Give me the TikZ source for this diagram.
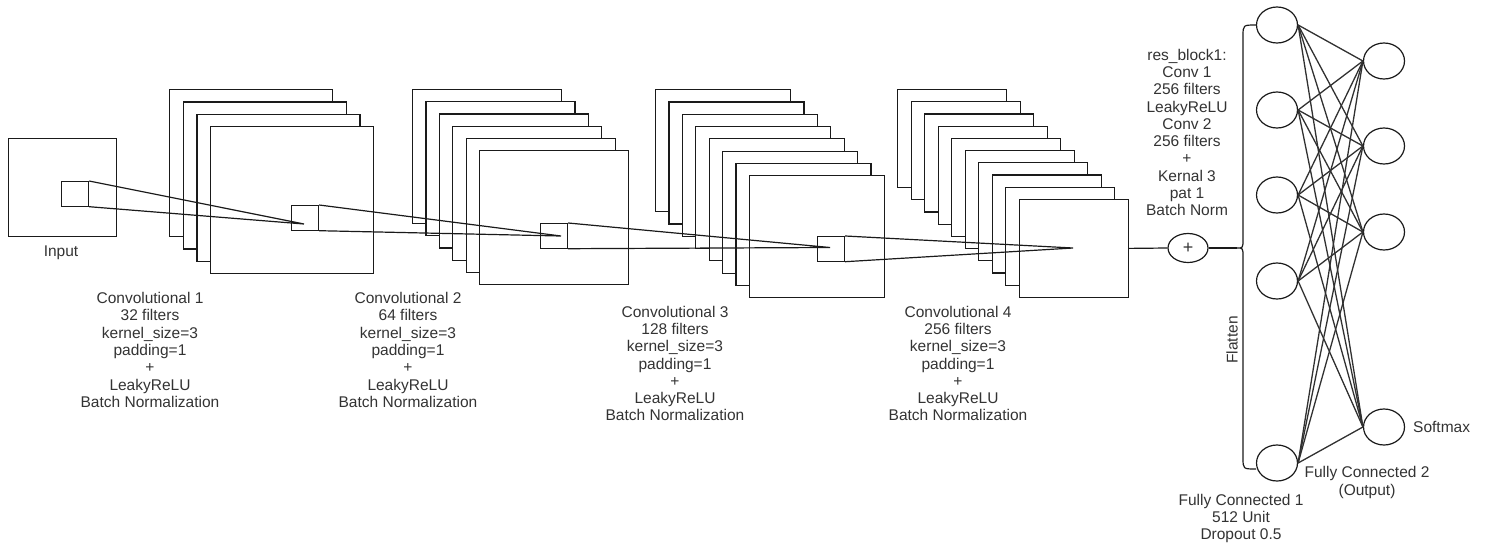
\documentclass[tikz,border=0pt]{standalone}
\usepackage{fontspec}
\setmainfont{Liberation Sans}
\usetikzlibrary{shapes.geometric}
\definecolor{txt}{HTML}{333333}
\definecolor{ln}{HTML}{1A1A1A}
\begin{document}
\begin{tikzpicture}[x=1pt,y=-1pt,
  sheet/.style={draw=ln, fill=white, line width=1.2pt, inner sep=0pt, anchor=north west},
  kern/.style={draw=ln, line width=1.2pt, inner sep=0pt, anchor=north west, minimum width=27pt, minimum height=24.5pt},
  lbl/.style={align=center, text=txt, font=\fontsize{15.5}{17.3}\selectfont, inner sep=0pt},
  neuron/.style={ellipse, draw=ln, line width=1.2pt, minimum width=41pt, minimum height=36pt, inner sep=0pt},
  wire/.style={draw=ln, line width=1.2pt},
  synapse/.style={draw=ln!90, line width=1.3pt}
]
\useasboundingbox (0,0) rectangle (1487,549);

% input
\node[sheet, minimum width=108pt, minimum height=98pt] (inp) at (8,138) {};
\node[lbl] (inplbl) at (61,253) {Input};

% stacks of feature maps
\foreach \i in {0,...,3}
  \node[sheet, minimum width=163pt, minimum height=147pt] (sa\i) at ({169+13.7*\i},{89+12.3*\i}) {};
\foreach \i in {0,...,5}
  \node[sheet, minimum width=149pt, minimum height=134pt] (sb\i) at ({412+13.4*\i},{89+12.2*\i}) {};
\foreach \i in {0,...,7}
  \node[sheet, minimum width=135pt, minimum height=122pt] (sc\i) at ({655+13.4*\i},{89+12.3*\i}) {};
\foreach \i in {0,...,9}
  \node[sheet, minimum width=109pt, minimum height=98pt] (sd\i) at ({897+13.5*\i},{89+12.2*\i}) {};

% kernels
\node[kern] (k0) at (61,181) {};
\node[kern] (k1) at (291,205) {};
\node[kern] (k2) at (540,223) {};
\node[kern] (k3) at (817,236) {};
\coordinate (p1) at (304,224);
\coordinate (p2) at (561,236);
\coordinate (p3) at (830,247.5);
\coordinate (p4) at (1073,248);
\draw[wire] (k0.north east) -- (p1) (k0.south east) -- (p1);
\draw[wire] (k1.north east) -- (p2) (k1.south east) -- (p2);
\draw[wire] (k2.north east) -- (p3) (k2.south east) -- (p3);
\draw[wire] (k3.north east) -- (p4) (k3.south east) -- (p4);

% labels of conv layers
\node[lbl] (l1) at (150,350) {Convolutional 1\\32 filters\\kernel\_size=3\\padding=1\\+\\LeakyReLU\\Batch Normalization};
\node[lbl] (l2) at (408,350) {Convolutional 2\\64 filters\\kernel\_size=3\\padding=1\\+\\LeakyReLU\\Batch Normalization};
\node[lbl] (l3) at (675,363.5) {Convolutional 3\\128 filters\\kernel\_size=3\\padding=1\\+\\LeakyReLU\\Batch Normalization};
\node[lbl] (l4) at (958,363.5) {Convolutional 4\\256 filters\\kernel\_size=3\\padding=1\\+\\LeakyReLU\\Batch Normalization};

% residual block
\node[lbl] (res) at (1187,132.5) {res\_block1:\\Conv 1\\256 filters\\LeakyReLU\\Conv 2\\256 filters\\+\\Kernal 3\\pat 1\\Batch Norm};
\node[ellipse, draw=ln, line width=1.2pt, minimum width=40pt, minimum height=29pt, inner sep=0pt, text=txt, font=\fontsize{18}{18}\selectfont] (plus) at (1188,248) {+};
\coordinate (cusp) at (1237,248);
\draw[wire] (sd9.east) -- (plus.west);
\draw[wire] (plus.east) -- (cusp);

% flatten brace
\draw[wire] (1256,25) .. controls (1243,25) .. (1243,36) -- (1243,239)
  .. controls (1243,248) .. (1237,248) .. controls (1243,248) .. (1243,257)
  -- (1243,458) .. controls (1243,469) .. (1256,469);
\node[lbl, rotate=90] (flat) at (1232,340) {Flatten};

% fully connected layers
\foreach \n/\y in {1/25,2/110,3/195,4/281,5/463}
  \node[neuron] (f\n) at (1277,\y) {};
\foreach \n/\y in {1/61,2/146,3/232,4/427}
  \node[neuron] (g\n) at (1384,\y) {};
\foreach \a in {1,...,5}
  \foreach \b in {1,...,4}
    \draw[synapse] (f\a.east) -- (g\b.west);

\node[lbl, anchor=west] (soft) at (1413,427) {Softmax};
\node[lbl] (fc2) at (1367,482.5) {Fully Connected 2\\(Output)};
\node[lbl] (fc1) at (1241,518.5) {Fully Connected 1\\512 Unit\\Dropout 0.5};
\end{tikzpicture}
\end{document}
